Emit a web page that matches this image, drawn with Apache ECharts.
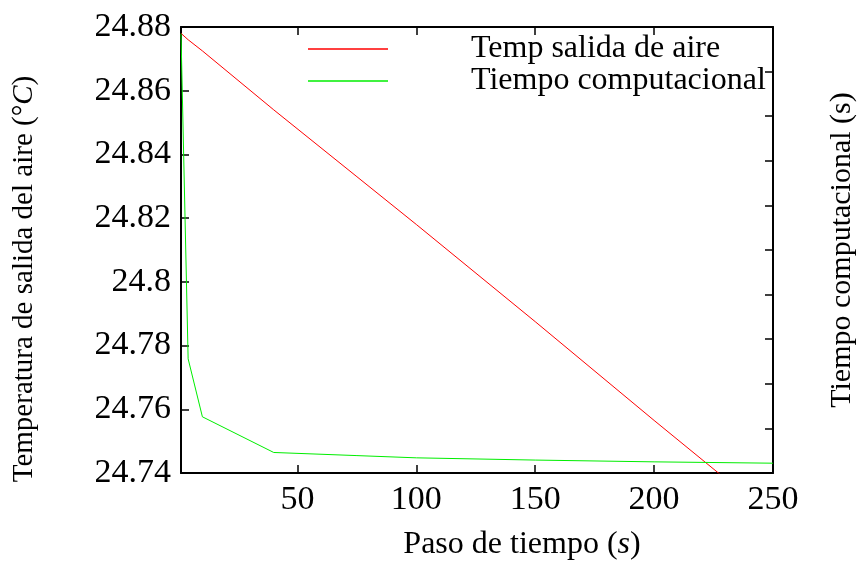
<!DOCTYPE html>
<html><head><meta charset="utf-8">
<script src="https://cdn.jsdelivr.net/npm/echarts@6/dist/echarts.min.js"></script>
<style>html,body{margin:0;padding:0;background:#fff}#c{width:857px;height:562px}</style>
</head><body><div id="c"></div>
<script>
const pasos = [1, 4, 10, 40, 75, 100, 150, 200, 250];
const tempSalida = [24.878, 24.876, 24.8725, 24.854, 24.833, 24.818, 24.7875, 24.7565, 24.726];
const tiempoComp = [985, 256, 126, 46, 39, 34, 29, 25, 22];
const yTicks = {min: 24.74, max: 24.88, interval: 0.02};
const seriesNames = ['Temp salida de aire', 'Tiempo computacional'];

const FONT = 'Liberation Serif';
const TICK_FS = 34;
const chart = echarts.init(document.getElementById('c'), null, {renderer: 'canvas'});
const axisCommon = {
  axisLine: {show: true, onZero: false, lineStyle: {color: '#000', width: 2}},
  axisTick: {show: true, inside: true, length: 8, lineStyle: {color: '#000', width: 1.5}},
  splitLine: {show: false}
};
chart.setOption({
  animation: false,
  backgroundColor: '#fff',
  grid: {left: 181, right: 84, top: 27, bottom: 89, outerBoundsMode: 'none', containLabel: false},
  legend: {
    orient: 'vertical', left: 308, top: 33, padding: 0, itemGap: 0,
    itemWidth: 80, itemHeight: 1.5, icon: 'rect',
    data: seriesNames,
    textStyle: {fontFamily: FONT, fontSize: 32, color: '#000', lineHeight: 30, padding: [0, 0, 0, 78]}
  },
  xAxis: [
    Object.assign({}, axisCommon, {
      type: 'value', min: 1, max: 250, splitNumber: 5, position: 'bottom',
      name: 'Paso de tiempo ({i|s})', nameLocation: 'middle', nameGap: 56,
      nameTextStyle: {fontFamily: FONT, fontSize: 32, color: '#000', padding: [0, 0, 0, 90],
        rich: {i: {fontFamily: FONT, fontSize: 32, fontStyle: 'italic', color: '#000'}}},
      axisLabel: {fontFamily: FONT, fontSize: TICK_FS, color: '#000', margin: 10, showMinLabel: false}
    }),
    Object.assign({}, axisCommon, {
      type: 'value', min: 1, max: 250, splitNumber: 5, position: 'top',
      axisLabel: {show: false}
    })
  ],
  yAxis: [
    Object.assign({}, axisCommon, {
      type: 'value', min: yTicks.min, max: yTicks.max, interval: yTicks.interval, position: 'left',
      name: 'Temperatura de salida del aire (°{i|C})', nameLocation: 'middle', nameGap: 142,
      nameTextStyle: {fontFamily: FONT, fontSize: 29, color: '#000', padding: [0, 58, 0, 0],
        rich: {i: {fontFamily: FONT, fontSize: 29, fontStyle: 'italic', color: '#000'}}},
      axisLabel: {fontFamily: FONT, fontSize: TICK_FS, color: '#000', margin: 10}
    }),
    Object.assign({}, axisCommon, {
      type: 'value', min: 0, max: 1000, interval: 100, position: 'right',
      name: 'Tiempo computacional (s)', nameLocation: 'middle', nameGap: 54,
      nameTextStyle: {fontFamily: FONT, fontSize: 30, color: '#000'},
      axisLabel: {show: false}
    })
  ],
  series: [
    {name: seriesNames[0], type: 'line', xAxisIndex: 0, yAxisIndex: 0, showSymbol: false, clip: true,
     data: pasos.map((p, i) => [p, tempSalida[i]]), lineStyle: {color: '#ff0000', width: 1}, itemStyle: {color: '#ff0000'}},
    {name: seriesNames[1], type: 'line', xAxisIndex: 0, yAxisIndex: 1, showSymbol: false, clip: true,
     data: pasos.map((p, i) => [p, tiempoComp[i]]), lineStyle: {color: '#00ee00', width: 1}, itemStyle: {color: '#00ee00'}}
  ]
});
</script></body></html>
